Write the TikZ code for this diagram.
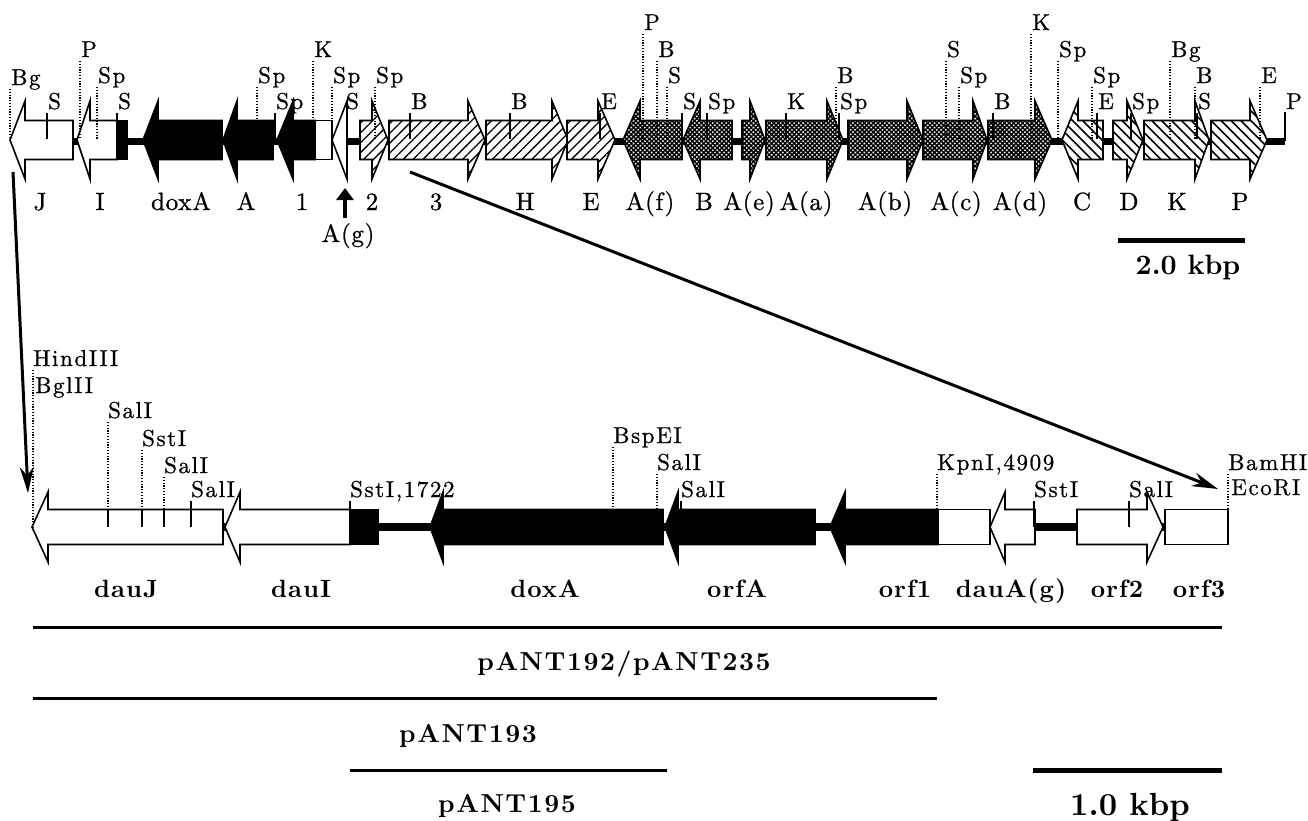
\documentclass[tikz,border=0pt]{standalone}
\usepackage{fontspec}
\setmainfont{lmroman10}[Extension=.otf,UprightFont=*-regular,BoldFont=*-bold,ItalicFont=*-italic,BoldItalicFont=*-bolditalic]
\usetikzlibrary{patterns.meta,arrows.meta}
\tikzset{
 gl/.style={line width=1.6pt, line join=miter, draw=black},
 whiteg/.style={gl, fill=white},
 blackg/.style={gl, fill=black},
 hatchA/.style={gl, preaction={fill=white}, pattern={Lines[angle=45,distance=7pt,line width=1.3pt]}},
 hatchB/.style={gl, preaction={fill=white}, pattern={Lines[angle=-45,distance=7pt,line width=1.6pt]}},
 dark/.style={gl, preaction={fill=white}, pattern={Hatch[angle=45,distance=3.2pt,line width=1.5pt]}},
 backbone/.style={line width=7pt},
 dotl/.style={line width=1.2pt, dash pattern=on 1.2pt off 1.6pt},
 tickl/.style={line width=1.4pt},
 site/.style={anchor=base west, inner sep=0pt, font=\fontsize{23}{25}\selectfont\addfontfeatures{LetterSpace=7,FakeBold=0.8}},
 gname/.style={anchor=base, inner sep=0pt, font=\fontsize{25}{27}\selectfont\addfontfeatures{LetterSpace=3,FakeBold=0.8}},
 bname/.style={anchor=base, inner sep=0pt, font=\fontsize{25}{27}\selectfont\bfseries\addfontfeatures{LetterSpace=4}},
 pname/.style={anchor=base, inner sep=0pt, font=\fontsize{26}{28}\selectfont\bfseries\addfontfeatures{LetterSpace=6}},
 kname/.style={anchor=base, inner sep=0pt, font=\fontsize{28}{30}\selectfont\bfseries},
 kbig/.style={anchor=base, inner sep=0pt, font=\fontsize{32}{34}\selectfont\bfseries},
 pline/.style={line width=3pt},
 sbar/.style={line width=5pt},
 longarr/.style={line width=3pt, -{Stealth[length=26pt,width=14pt]}},
}
% right-pointing gene: style, x start, x head base, x tip, y, half body, half head
\newcommand\RArrow[7]{\path[#1] (#2,#5-#6) -- (#3,#5-#6) -- (#3,#5-#7) -- (#4,#5) -- (#3,#5+#7) -- (#3,#5+#6) -- (#2,#5+#6) -- cycle;}
% left-pointing gene: style, x tip, x head base, x end, y, half body, half head
\newcommand\LArrow[7]{\path[#1] (#2,#5) -- (#3,#5-#7) -- (#3,#5-#6) -- (#4,#5-#6) -- (#4,#5+#6) -- (#3,#5+#6) -- (#3,#5+#7) -- cycle;}
\begin{document}
\begin{tikzpicture}[x=1pt,y=-1pt]
\useasboundingbox (0,0) rectangle (1308,820);
% ===== top map =====
\draw[backbone] (20,141) -- (1285,141);
\draw[line width=1.8pt] (1285,141) -- (1285,112);
\LArrow{whiteg}{10}{25}{73}{140}{19.5}{39}
\LArrow{whiteg}{77}{90}{117}{140}{19.5}{39}
\path[blackg] (117,120.5) rectangle (127,159.5);
\LArrow{blackg}{143}{158}{222}{140}{19.5}{39}
\LArrow{blackg}{223}{237}{273}{140}{19.5}{39}
\LArrow{blackg}{277}{293}{315}{140}{19.5}{39}
\path[whiteg] (315,120.5) rectangle (332,159.5);
\path[whiteg] (332,140) -- (347,101) -- (347,179) -- cycle;
\RArrow{hatchA}{360}{372}{388}{140}{19.5}{39}
\RArrow{hatchA}{389}{468}{485}{140}{19.5}{39}
\RArrow{hatchA}{486}{552}{568}{140}{19.5}{39}
\RArrow{hatchA}{567}{598}{615}{140}{19.5}{39}
\LArrow{dark}{623}{640}{682}{140}{19.5}{39}
\LArrow{dark}{683}{700}{732}{140}{19.5}{39}
\RArrow{dark}{742}{750}{765}{140}{19.5}{39}
\RArrow{dark}{766}{827}{843}{140}{19.5}{39}
\RArrow{dark}{848}{907}{923}{140}{19.5}{39}
\RArrow{dark}{923}{973}{987}{140}{19.5}{39}
\RArrow{dark}{988}{1035}{1052}{140}{19.5}{39}
\LArrow{hatchB}{1062}{1078}{1103}{140}{19.5}{39}
\RArrow{hatchB}{1113}{1127}{1143}{140}{19.5}{39}
\RArrow{hatchB}{1144}{1195}{1209}{140}{19.5}{39}
\RArrow{hatchB}{1211}{1250}{1267}{140}{19.5}{39}
% dotted sites
\foreach \x/\b/\t in {10/85/Bg, 80/57/P, 97/83/Sp, 257/83/Sp, 313/57/K, 332/83/Sp, 375/83/Sp, 643/30/P, 657/57/B, 667/83/S, 836/83/B, 946/57/S, 959/83/Sp, 1031/30/K, 1058/57/Sp, 1092/83/Sp, 1170/57/Bg, 1195/83/B, 1260/83/E}{
  \node[site] (td\x) at (\x+1,\b) {\t};
  \draw[dotl] (\x,\b+4) -- (\x,139);
}
% solid sites
\foreach \x/\t in {47/S, 117/S, 275/Sp, 410/B, 510/B, 600/E, 682/S, 707/Sp, 786/K, 839/Sp, 993/B, 1097/E, 1131/Sp, 1197/S}{
  \node[site] (ts\x) at (\x+1,109) {\t};
  \draw[tickl] (\x,113) -- (\x,139);
}
\node[site] (ts345) at (346,109) {S};
\node[site] (ts1285) at (1286,109) {P};
% gene names top
\foreach \x/\t in {40/J, 100/I, 181/doxA, 246/A, 302/1, 372/2, 436/3, 525/H, 591/E, 650/A(f), 704/B, 749/A(e), 806/A(a), 885/A(b), 956/A(c), 1020/A(d), 1082/C, 1129/D, 1177/K, 1240/P}{
  \node[gname] (tg\x) at (\x,210) {\t};
}
\node[gname] (tgAg) at (348,242) {A(g)};
\coordinate (agfoot) at (345,218);
\coordinate (aghead) at (345,188);
\draw[line width=4.5pt, -{Triangle[length=12pt,width=17pt]}] (agfoot) -- (aghead);
% scale bar top
\draw[sbar] (1118,240) -- (1245,240);
\node[kname] (kb2) at (1188,274) {2.0 kbp};
% ===== bottom map =====
\draw[line width=8pt] (40,527) -- (1228,527);
\LArrow{whiteg}{32}{48}{223}{527}{17.5}{35}
\LArrow{whiteg}{225}{240}{350}{527}{17.5}{35}
\path[blackg] (350,509.5) rectangle (378,544.5);
\LArrow{blackg}{430}{443}{663}{527}{17.5}{35}
\LArrow{blackg}{665}{678}{815}{527}{17.5}{35}
\LArrow{blackg}{830}{845}{938}{527}{17.5}{35}
\path[whiteg] (938,509.5) rectangle (990,544.5);
\LArrow{whiteg}{990}{1005}{1035}{527}{17.5}{35}
\RArrow{whiteg}{1077}{1147}{1163}{527}{17.5}{35}
\path[whiteg] (1165,509.5) rectangle (1228,544.5);
% bottom dotted sites
\node[site] (bHind) at (33,366) {HindIII};
\node[site] (bBgl) at (35,393) {BglII};
\draw[dotl] (33,370) -- (33,527);
\foreach \x/\b/\t/\e in {108/418/SalI/510, 142/446/SstI/510, 164/473/SalI/510, 613/443/BspEI/510, 657/470/SalI/510, 937/470/{KpnI,4909}/510}{
  \node[site] (bd\x) at (\x,\b) {\t};
  \draw[dotl] (\x,\b+4) -- (\x,\e);
}
\foreach \x in {108,142,164}{ \draw[tickl] (\x,510) -- (\x,527); }
\node[site] (bBam) at (1228,470) {BamHI};
\node[site] (bEco) at (1231,495) {EcoRI};
\draw[dotl] (1228,474) -- (1228,510);
% bottom solid sites
\foreach \x/\t in {191/SalI, 350/{SstI,1722}, 681/SalI, 1034/SstI, 1129/SalI}{
  \node[site] (bs\x) at (\x,497) {\t};
  \draw[tickl] (\x,501) -- (\x,527);
}
% bottom gene names
\foreach \x/\t in {126/dauJ, 301/dauI, 545/doxA, 737/orfA, 905/orf1, 1011/dauA(g), 1117/orf2, 1199/orf3}{
  \node[bname] (bg\x) at (\x,597) {\t};
}
% plasmids
\draw[pline] (33,627) -- (1222,627);
\node[pname] (p192) at (624,670) {pANT192/pANT235};
\draw[pline] (33,698) -- (937,698);
\node[pname] (p193) at (468,742) {pANT193};
\draw[pline] (350,770) -- (667,770);
\node[pname] (p195) at (507,812) {pANT195};
\draw[sbar] (1033,770) -- (1222,770);
\node[kbig] (kb1) at (1130,815) {1.0 kbp};
% long arrows
\coordinate (la1) at (13,172);
\coordinate (la2) at (28,493);
\draw[longarr] (la1) -- (la2);
\coordinate (ra1) at (410,172);
\coordinate (ra2) at (1218,489);
\draw[longarr] (ra1) -- (ra2);
\end{tikzpicture}
\end{document}
